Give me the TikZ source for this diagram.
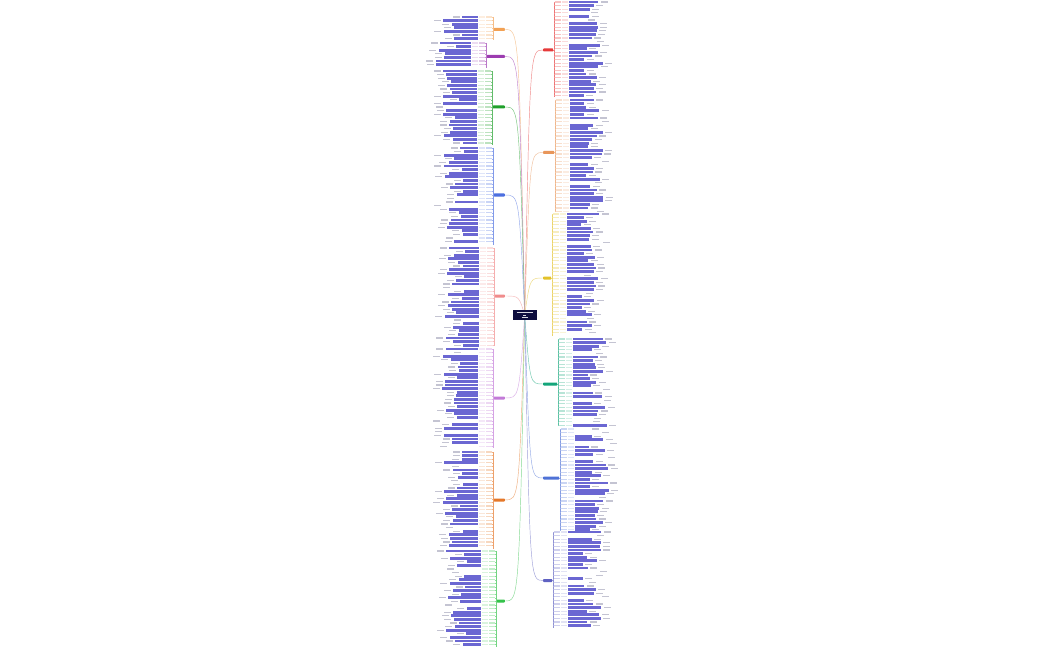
\documentclass[tikz,border=0pt]{standalone}
\usetikzlibrary{calc}
\definecolor{cnav}{HTML}{0E0E3E}
\definecolor{cbox}{HTML}{6B67D2}
\definecolor{cgry}{HTML}{C4C4D2}
\definecolor{lorA}{HTML}{F2A154}
\definecolor{lpuB}{HTML}{9C3CB0}
\definecolor{lgrC}{HTML}{1FA02A}
\definecolor{lblD}{HTML}{4C6FE0}
\definecolor{lpiE}{HTML}{F08C8C}
\definecolor{lviF}{HTML}{C37AD8}
\definecolor{lorG}{HTML}{E5782A}
\definecolor{lgrH}{HTML}{34C24A}
\definecolor{rreA}{HTML}{E63A3A}
\definecolor{rorB}{HTML}{E8965A}
\definecolor{ryeC}{HTML}{E3C22A}
\definecolor{rteD}{HTML}{13A57A}
\definecolor{rblE}{HTML}{4F72D6}
\definecolor{rinF}{HTML}{5F62C2}
\begin{document}
\begin{tikzpicture}[x=1pt,y=-1pt,
  mainnode/.style={rectangle,inner sep=0pt,minimum height=3pt,rounded corners=0.6pt},
  leafbox/.style={rectangle,inner sep=0pt,minimum height=2.9pt,fill=cbox},
  stub/.style={rectangle,inner sep=0pt,minimum height=1.2pt,minimum width=5.5pt},
  graystub/.style={rectangle,inner sep=0pt,minimum height=1.2pt,minimum width=7pt,fill=cgry},
  conn/.style={line width=0.45pt}
  ]
\useasboundingbox[fill=white] (0,0) rectangle (1050,650);
\pgfmathsetseed{3}
\coordinate (c0) at (524.7,315);
% ---------- left side ----------
\foreach \col/\ym/\ya/\yb/\mw [count=\k] in {lorA/29.5/17/40/11, lpuB/56.5/43/68/18, lgrC/107/71/145/12, lblD/195/148/245/11, lpiE/296/248/346/10, lviF/398/349/448/11, lorG/500/452/549/11, lgrH/601/551/647/8}{
  \pgfmathsetmacro\vx{504-\mw}
  \node[mainnode,fill=\col,minimum width=\mw pt,anchor=east] (mL\k) at (505,\ym) {};
  \draw[conn,\col!60] (c0) .. controls (519,\ym) .. (mL\k.east);
  \coordinate (vtL\k) at (\vx,\ya);
  \coordinate (vbL\k) at (\vx,\yb);
  \draw[conn,\col!70] (vtL\k) -- (vbL\k);
  \draw[conn,\col!70] (mL\k.west) -- (\vx,\ym);
  \pgfmathtruncatemacro\n{(\yb-\ya)/3.6}
  \foreach \j in {0,...,\n}{
    \pgfmathsetmacro\yy{\ya+\j*3.6}
    \pgfmathsetmacro\w{14+rnd*22}
    \pgfmathsetmacro\op{rnd<0.15 ? 0 : 1}
    \coordinate (tL\k-\j) at (\vx,\yy);
    \node[stub,fill=\col!30,anchor=east] (laL\k-\j) at (\vx-1,\yy) {};
    \node[stub,fill=\col!18,anchor=east] (lbL\k-\j) at ($(laL\k-\j.west)+(-1,0)$) {};
    \node[leafbox,minimum width=\w pt,anchor=east,fill opacity=\op] (bxL\k-\j) at ($(lbL\k-\j.west)+(-1,0)$) {};
    \node[graystub,anchor=east] (gL\k-\j) at ($(bxL\k-\j.west)+(-2,0)$) {};
    \draw[conn,\col!55] (tL\k-\j) -- (laL\k-\j.east);
  }
}
% ---------- right side ----------
\foreach \col/\ym/\ya/\yb/\mw [count=\k] in {rreA/50/2/97/10, rorB/152.5/100/212/11, ryeC/278/214/336/8, rteD/384/339/426/14, rblE/478/429/530/16, rinF/580.5/532/628/9}{
  \pgfmathsetmacro\vx{544+\mw}
  \node[mainnode,fill=\col,minimum width=\mw pt,anchor=west] (mR\k) at (543,\ym) {};
  \draw[conn,\col!60] (c0) .. controls (530,\ym) .. (mR\k.west);
  \coordinate (vtR\k) at (\vx,\ya);
  \coordinate (vbR\k) at (\vx,\yb);
  \draw[conn,\col!70] (vtR\k) -- (vbR\k);
  \draw[conn,\col!70] (mR\k.east) -- (\vx,\ym);
  \pgfmathtruncatemacro\n{(\yb-\ya)/3.6}
  \foreach \j in {0,...,\n}{
    \pgfmathsetmacro\yy{\ya+\j*3.6}
    \pgfmathsetmacro\w{14+rnd*20}
    \pgfmathsetmacro\op{rnd<0.15 ? 0 : 1}
    \coordinate (tR\k-\j) at (\vx,\yy);
    \node[stub,fill=\col!30,anchor=west] (laR\k-\j) at (\vx+1,\yy) {};
    \node[stub,fill=\col!18,anchor=west] (lbR\k-\j) at ($(laR\k-\j.east)+(1,0)$) {};
    \node[leafbox,minimum width=\w pt,anchor=west,fill opacity=\op] (bxR\k-\j) at ($(lbR\k-\j.east)+(1,0)$) {};
    \node[graystub,anchor=west] (gR\k-\j) at ($(bxR\k-\j.east)+(2,0)$) {};
    \draw[conn,\col!55] (tR\k-\j) -- (laR\k-\j.west);
  }
}
% ---------- centre ----------
\node[fill=cnav,minimum width=24pt,minimum height=10pt,inner sep=0pt] (cent) at (c0) {};
\draw[white!85!cnav,line width=0.9pt] ($(cent.center)+(-8,-2.8)$) -- ($(cent.center)+(8,-2.8)$);
\draw[white!85!cnav,line width=0.9pt] ($(cent.center)+(-1.5,0)$) -- ($(cent.center)+(1.5,0)$);
\draw[white!85!cnav,line width=0.9pt] ($(cent.center)+(-3,2.8)$) -- ($(cent.center)+(3,2.8)$);
\end{tikzpicture}
\end{document}
